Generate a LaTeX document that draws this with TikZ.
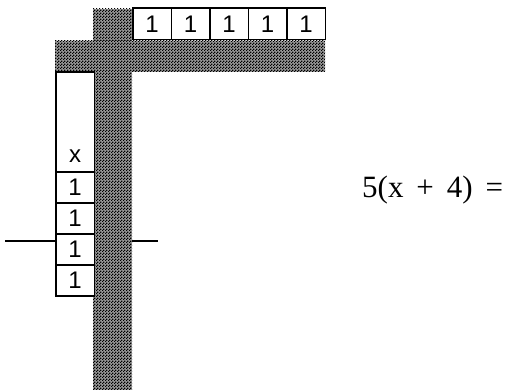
\documentclass[tikz,border=0pt]{standalone}
\usepackage{fontspec}
\setmainfont{Liberation Serif}
\setsansfont{Liberation Sans}
\usetikzlibrary{patterns,positioning}
\pgfdeclarepatternformonly{tablero}{\pgfqpoint{0pt}{0pt}}{\pgfqpoint{3pt}{3pt}}{\pgfqpoint{3pt}{3pt}}{%
  \pgfpathrectangle{\pgfqpoint{0pt}{0pt}}{\pgfqpoint{1.5pt}{1.5pt}}%
  \pgfpathrectangle{\pgfqpoint{1.5pt}{1.5pt}}{\pgfqpoint{1.5pt}{1.5pt}}%
  \pgfusepath{fill}}
\tikzset{
  ficha/.style={draw,line width=1.5pt,fill=white,minimum width=38.5pt,minimum height=31.5pt,
    inner sep=0pt,anchor=south west,font=\sffamily\fontsize{24}{24}\selectfont},
  rejilla/.style={fill=black!40,postaction={pattern=tablero}}
}

\begin{document}
\begin{tikzpicture}[x=1pt,y=1pt]
\useasboundingbox (0,0) rectangle (507,390);
% linea horizontal
\coordinate (lineaA) at (5,149);
\coordinate (lineaB) at (158,149);
\draw[line width=1.2pt] (lineaA) -- (lineaB);
% bandas sombreadas
\path[rejilla] (93,0) rectangle (132,381);
\path[rejilla] (55,318) rectangle (325,349);
% fichas de arriba
\foreach \i in {0,...,4}
  \node[ficha] (arriba\i) at (132+38.5*\i,349.5) {1};
% columna izquierda
\node[ficha,minimum height=100pt,text height=90pt,text depth=10pt] (equis) at (55,217) {x};
\foreach \i in {1,...,4}
  \node[ficha,minimum height=31pt] (izq\i) at (55,217-31*\i) {1};
\node[font=\fontsize{31}{31}\selectfont,anchor=base west,inner sep=0pt] (ecuacion) at (362,192)
  {5(x\ \,+\ \,4)\ \,=};
\end{tikzpicture}
\end{document}
